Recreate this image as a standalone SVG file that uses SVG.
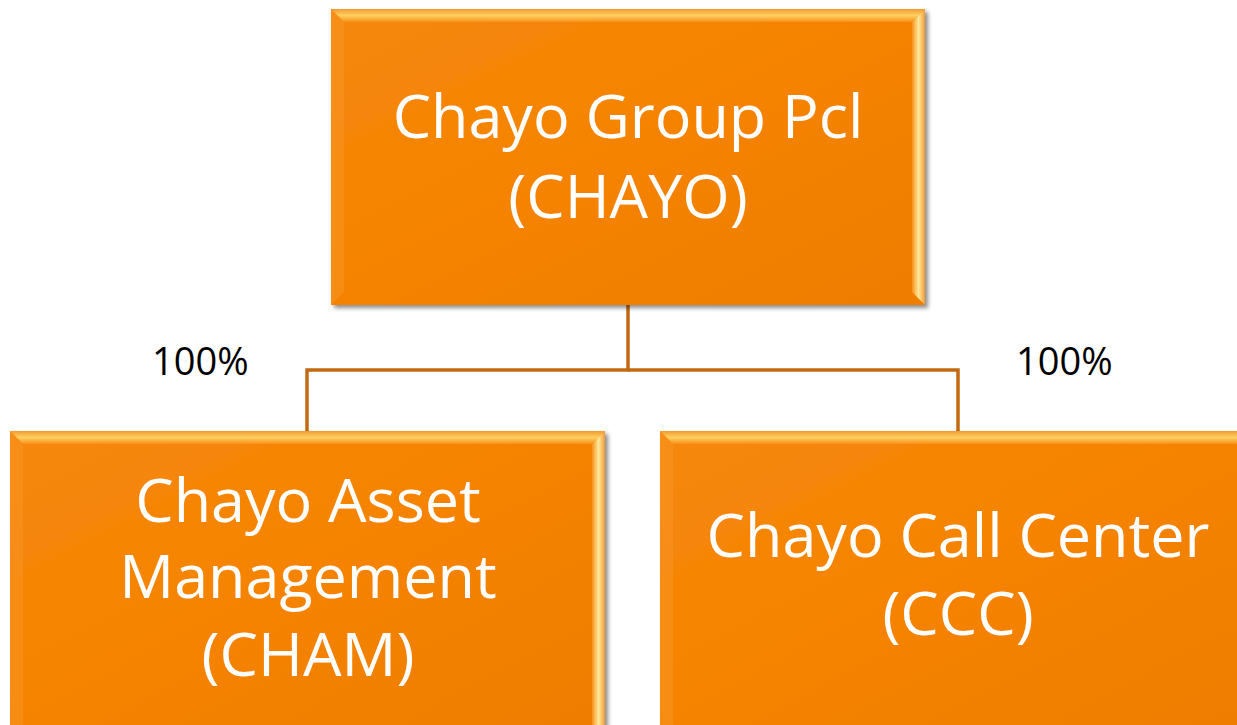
<svg xmlns="http://www.w3.org/2000/svg" width="1237" height="725" viewBox="0 0 1237 725">
<style>
.lbl{font-family:"Open Sans","Noto Sans",sans-serif;fill:#fff;text-anchor:middle;font-size:61px}
.pct{font-family:"Open Sans","Noto Sans",sans-serif;fill:#000;font-size:38px}
.conn{fill:none;stroke:#C26A12;stroke-width:3.5}
.top{fill:url(#topG)}
.rgt{fill:url(#rgtG)}
.lft{fill:#F99320;opacity:0.6}
</style>
<defs>
<linearGradient id="body" x1="0" y1="0" x2="1" y2="1">
<stop offset="0" stop-color="#F6880C"/>
<stop offset="0.5" stop-color="#F58300"/>
<stop offset="1" stop-color="#EE7D05"/>
</linearGradient>
<linearGradient id="topG" x1="0" y1="0" x2="0" y2="1">
<stop offset="0" stop-color="#F39A30"/>
<stop offset="0.5" stop-color="#FFD060"/>
<stop offset="1" stop-color="#F8901A"/>
</linearGradient>
<linearGradient id="rgtG" x1="0" y1="0" x2="1" y2="0">
<stop offset="0" stop-color="#F8901A"/>
<stop offset="0.5" stop-color="#FFE89A"/>
<stop offset="1" stop-color="#F39A30"/>
</linearGradient>
<filter id="sh" x="-5%" y="-5%" width="115%" height="115%">
<feDropShadow dx="3" dy="3" stdDeviation="2" flood-color="#000" flood-opacity="0.45"/>
</filter>
</defs>
<g id="connectors">
<polyline class="conn" points="628,305 628,370 307,370 307,432"/>
<polyline class="conn" points="628,370 958,370 958,432"/>
</g>
<g id="node-chayo">
<rect x="331" y="9" width="594" height="296" fill="url(#body)" filter="url(#sh)"/>
<polygon class="top" points="331,9 925,9 912,22 344,22"/>
<polygon class="rgt" points="925,9 925,305 912,292 912,22"/>
<polygon class="lft" points="331,9 344,22 344,292 331,305"/>
<text class="lbl" x="628" y="138">Chayo Group Pcl</text>
<text class="lbl" x="628" y="218">(CHAYO)</text>
</g>
<g id="node-cham">
<rect x="10" y="431" width="595" height="310" fill="url(#body)" filter="url(#sh)"/>
<polygon class="top" points="10,431 605,431 592,444 23,444"/>
<polygon class="rgt" points="605,431 605,741 592,728 592,444"/>
<polygon class="lft" points="10,431 23,444 23,728 10,741"/>
<text class="lbl" x="308" y="522">Chayo Asset</text>
<text class="lbl" x="308" y="598">Management</text>
<text class="lbl" x="308" y="676">(CHAM)</text>
</g>
<g id="node-ccc">
<rect x="660" y="431" width="595" height="310" fill="url(#body)" filter="url(#sh)"/>
<polygon class="top" points="660,431 1255,431 1242,444 673,444"/>
<polygon class="lft" points="660,431 673,444 673,728 660,741"/>
<text class="lbl" x="958" y="557">Chayo Call Center</text>
<text class="lbl" x="958" y="635">(CCC)</text>
</g>
<text class="pct" x="152" y="375">100%</text>
<text class="pct" x="1016" y="375">100%</text>
</svg>
